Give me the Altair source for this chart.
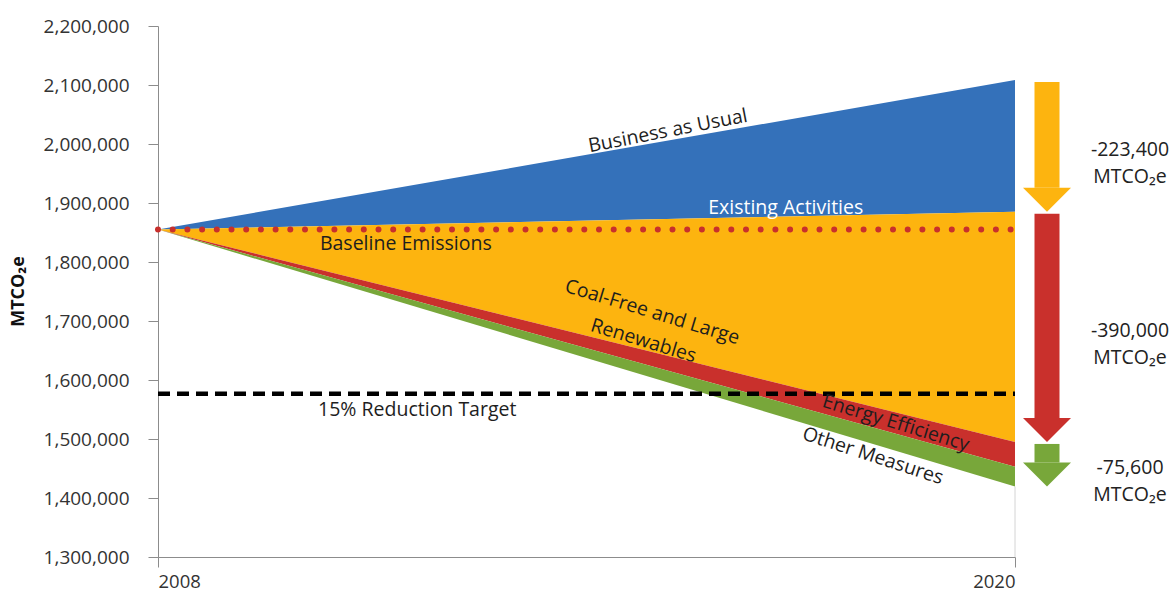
import altair as alt
import pandas as pd

# Emissions pathway, 2008 -> 2020 (MTCO2e)
YEARS = [2008, 2020]
BASELINE = 1855000
BUSINESS_AS_USUAL = [1855000, 2108400]
AFTER_EXISTING_ACTIVITIES = [1855000, 1885000]
AFTER_COAL_FREE_RENEWABLES = [1855000, 1495000]
AFTER_ENERGY_EFFICIENCY = [1855000, 1453000]
AFTER_OTHER_MEASURES = [1855000, 1419400]
REDUCTION_TARGET = 1576750  # 15% below baseline

BANDS = ["Existing Activities", "Coal-Free and Large Renewables",
         "Energy Efficiency", "Other Measures"]
BAND_COLORS = ["#3471ba", "#fdb40f", "#c9302c", "#78a73a"]

# Reductions shown by the arrows at the right
REDUCTIONS = [-223400, -390000, -75600]
ARROW_COLORS = ["#fdb40f", "#c9302c", "#78a73a"]

Y_TICKS = [1300000, 1400000, 1500000, 1600000, 1700000,
           1800000, 1900000, 2000000, 2100000, 2200000]

FONT = "Open Sans"
TEXT = "#1e1e1e"
LABEL_SIZE = 19.5

edges = [BUSINESS_AS_USUAL, AFTER_EXISTING_ACTIVITIES, AFTER_COAL_FREE_RENEWABLES,
         AFTER_ENERGY_EFFICIENCY, AFTER_OTHER_MEASURES]
rows = []
for i, band in enumerate(BANDS):
    for j, yr in enumerate(YEARS):
        rows.append({"year": yr, "band": band, "top": edges[i][j], "bottom": edges[i + 1][j]})
bands_df = pd.DataFrame(rows)

x_scale = alt.Scale(domain=[2008, 2020], nice=False)
y_scale = alt.Scale(domain=[1300000, 2200000], nice=False, zero=False)

areas = alt.Chart(bands_df).mark_area(opacity=1).encode(
    x=alt.X("year:Q", scale=x_scale,
            axis=alt.Axis(values=YEARS, format="d", title=None, grid=False,
                          tickSize=10, labelPadding=5, labelFontSize=18.5,
                          labelFont=FONT, labelColor="#333333",
                          domainColor="#8c8c8c", tickColor="#8c8c8c")),
    y=alt.Y("top:Q", scale=y_scale,
            axis=alt.Axis(values=Y_TICKS, format=",d", title="MTCO₂e", grid=False,
                          tickSize=10, labelPadding=19, labelFontSize=19,
                          labelFont=FONT, labelColor="#333333",
                          domainColor="#8c8c8c", tickColor="#8c8c8c",
                          titleFont=FONT, titleFontSize=18, titleFontWeight="bold",
                          titleColor="#111111", titleAngle=270, titleX=-131,
                          titleY=265, titleBaseline="bottom", titleAlign="center")),
    y2="bottom:Q",
    color=alt.Color("band:N", scale=alt.Scale(domain=BANDS, range=BAND_COLORS), legend=None),
)

one = pd.DataFrame({"k": [0]})

edge_rule = alt.Chart(one).mark_rule(color="#d4d4d4", strokeWidth=1).encode(
    x=alt.datum(2020), y=alt.datum(AFTER_OTHER_MEASURES[-1]), y2=alt.datum(1300000))

baseline = alt.Chart(one).mark_rule(
    color="#c8302c", strokeWidth=6, strokeCap="round", strokeDash=[0, 14.7]
).encode(x=alt.datum(2008), x2=alt.datum(2020), y=alt.datum(BASELINE))

target = alt.Chart(one).mark_rule(
    color="#000000", strokeWidth=4.5, strokeDash=[12, 7]
).encode(x=alt.datum(2008), x2=alt.datum(2020), y=alt.datum(REDUCTION_TARGET))

# Arrow table: each reduction runs from one edge to the next at 2020
arrow_rows = []
top = BUSINESS_AS_USUAL[-1]
for val, col in zip(REDUCTIONS, ARROW_COLORS):
    bottom = top + val
    arrow_rows.append({"top": top, "bottom": bottom, "mid": (top + bottom) / 2,
                       "color": col,
                       "label": f"-{abs(val):,}\nMTCO₂e"})
    top = bottom
arrows_df = pd.DataFrame(arrow_rows)

shafts = alt.Chart(arrows_df).mark_rule(
    strokeWidth=25, xOffset=32, yOffset=2, y2Offset=-24
).encode(x=alt.datum(2020), y="top:Q", y2="bottom:Q",
         color=alt.Color("color:N", scale=None))

heads = alt.Chart(arrows_df).mark_point(
    shape="M-1,-1L1,-1L0,0Z", size=2304, filled=True, opacity=1,
    strokeWidth=0, xOffset=32
).encode(x=alt.datum(2020), y="bottom:Q",
         color=alt.Color("color:N", scale=None))

arrow_labels = alt.Chart(arrows_df).mark_text(
    font=FONT, fontSize=LABEL_SIZE, color="#222222", align="center", baseline="middle",
    lineBreak="\n", lineHeight=27, dx=115, dy=4
).encode(x=alt.datum(2020), y="mid:Q", text="label:N")


def label(text, year, value, angle=0, color=TEXT, line_height=24):
    return alt.Chart(one).mark_text(
        font=FONT, fontSize=LABEL_SIZE, color=color, align="center", baseline="middle",
        angle=angle, lineBreak="\n", lineHeight=line_height
    ).encode(x=alt.datum(year), y=alt.datum(value), text=alt.datum(text))


labels = [
    label("Business as Usual", 2015.14, 2022000, 349),
    label("Existing Activities", 2016.79, 1891500, 0, "#ffffff"),
    label("Baseline Emissions", 2011.47, 1830500),
    label("Coal-Free and Large\nRenewables", 2014.92, 1715000, 17, line_height=30),
    label("Energy Efficiency", 2018.33, 1527100, 17),
    label("Other Measures", 2018.01, 1471200, 18),
    label("15% Reduction Target", 2011.63, 1549200),
]

chart = alt.layer(
    areas, edge_rule, baseline, target, shafts, heads, arrow_labels, *labels
).properties(
    width=857, height=531,
    padding={"left": 158, "top": 26, "right": 159, "bottom": 38},
    autosize=alt.AutoSizeParams(type="none"),
    background="#ffffff",
).configure_view(stroke=None)

chart.save("out.html", embed_options={"renderer": "svg", "actions": False})
